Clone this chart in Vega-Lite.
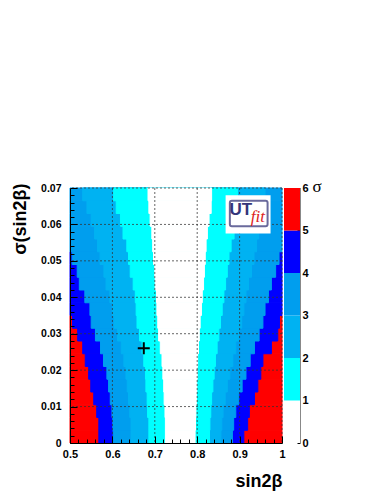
{
  "$schema": "https://vega.github.io/schema/vega-lite/v6.json",
  "padding": {"left": 10, "top": 177, "right": 0, "bottom": 4},
  "bounds": "flush",
  "spacing": 2,
  "config": {"view": {"stroke": null}, "font": "Liberation Sans", "axis": {"labelOverlap": false}},
  "resolve": {"scale": {"y": "independent", "x": "independent"}},
  "datasets": {
    "cells": [
      {"y0":0.0315,"y1":0.035,"lev":5,"lo":0.5,"hi":1},{"y0":0.028,"y1":0.0315,"lev":5,"lo":0.5,"hi":1},{"y0":0.0245,"y1":0.028,"lev":5,"lo":0.5,"hi":1},{"y0":0.021,"y1":0.0245,"lev":5,"lo":0.5,"hi":1},{"y0":0.0175,"y1":0.021,"lev":5,"lo":0.5,"hi":1},
      {"y0":0.014,"y1":0.0175,"lev":5,"lo":0.5,"hi":1},{"y0":0.0105,"y1":0.014,"lev":5,"lo":0.5,"hi":1},{"y0":0.007,"y1":0.0105,"lev":5,"lo":0.5,"hi":1},{"y0":0.0035,"y1":0.007,"lev":5,"lo":0.5,"hi":1},{"y0":0,"y1":0.0035,"lev":5,"lo":0.5,"hi":1},

      {"y0":0.049,"y1":0.0525,"lev":4,"lo":0.5,"hi":1},{"y0":0.0455,"y1":0.049,"lev":4,"lo":0.5,"hi":1},{"y0":0.042,"y1":0.0455,"lev":4,"lo":0.5,"hi":1},{"y0":0.0385,"y1":0.042,"lev":4,"lo":0.5,"hi":1},{"y0":0.035,"y1":0.0385,"lev":4,"lo":0.5,"hi":1},
      {"y0":0.0315,"y1":0.035,"lev":4,"lo":0.506,"hi":0.994},{"y0":0.028,"y1":0.0315,"lev":4,"lo":0.518,"hi":0.99},{"y0":0.0245,"y1":0.028,"lev":4,"lo":0.53,"hi":0.975},{"y0":0.021,"y1":0.0245,"lev":4,"lo":0.536,"hi":0.955},{"y0":0.0175,"y1":0.021,"lev":4,"lo":0.544,"hi":0.95},
      {"y0":0.014,"y1":0.0175,"lev":4,"lo":0.549,"hi":0.943},{"y0":0.0105,"y1":0.014,"lev":4,"lo":0.556,"hi":0.935},{"y0":0.007,"y1":0.0105,"lev":4,"lo":0.563,"hi":0.923},{"y0":0.0035,"y1":0.007,"lev":4,"lo":0.568,"hi":0.919},{"y0":0,"y1":0.0035,"lev":4,"lo":0.568,"hi":0.91},

      {"y0":0.0665,"y1":0.07,"lev":3,"lo":0.5,"hi":1},{"y0":0.063,"y1":0.0665,"lev":3,"lo":0.5,"hi":1},{"y0":0.0595,"y1":0.063,"lev":3,"lo":0.5,"hi":1},{"y0":0.056,"y1":0.0595,"lev":3,"lo":0.5,"hi":1},{"y0":0.0525,"y1":0.056,"lev":3,"lo":0.5,"hi":1},
      {"y0":0.049,"y1":0.0525,"lev":3,"lo":0.505,"hi":0.993},{"y0":0.0455,"y1":0.049,"lev":3,"lo":0.517,"hi":0.985},{"y0":0.042,"y1":0.0455,"lev":3,"lo":0.522,"hi":0.975},{"y0":0.0385,"y1":0.042,"lev":3,"lo":0.535,"hi":0.968},{"y0":0.035,"y1":0.0385,"lev":3,"lo":0.547,"hi":0.96},
      {"y0":0.0315,"y1":0.035,"lev":3,"lo":0.55,"hi":0.955},{"y0":0.028,"y1":0.0315,"lev":3,"lo":0.56,"hi":0.946},{"y0":0.0245,"y1":0.028,"lev":3,"lo":0.572,"hi":0.935},{"y0":0.021,"y1":0.0245,"lev":3,"lo":0.579,"hi":0.925},{"y0":0.0175,"y1":0.021,"lev":3,"lo":0.587,"hi":0.915},
      {"y0":0.014,"y1":0.0175,"lev":3,"lo":0.591,"hi":0.906},{"y0":0.0105,"y1":0.014,"lev":3,"lo":0.595,"hi":0.898},{"y0":0.007,"y1":0.0105,"lev":3,"lo":0.599,"hi":0.891},{"y0":0.0035,"y1":0.007,"lev":3,"lo":0.601,"hi":0.886},{"y0":0,"y1":0.0035,"lev":3,"lo":0.602,"hi":0.883},

      {"y0":0.0665,"y1":0.07,"lev":2,"lo":0.53,"hi":0.96},{"y0":0.063,"y1":0.0665,"lev":2,"lo":0.54,"hi":0.955},{"y0":0.0595,"y1":0.063,"lev":2,"lo":0.55,"hi":0.95},{"y0":0.056,"y1":0.0595,"lev":2,"lo":0.558,"hi":0.945},{"y0":0.0525,"y1":0.056,"lev":2,"lo":0.565,"hi":0.94},
      {"y0":0.049,"y1":0.0525,"lev":2,"lo":0.571,"hi":0.934},{"y0":0.0455,"y1":0.049,"lev":2,"lo":0.58,"hi":0.928},{"y0":0.042,"y1":0.0455,"lev":2,"lo":0.585,"hi":0.921},{"y0":0.0385,"y1":0.042,"lev":2,"lo":0.594,"hi":0.915},{"y0":0.035,"y1":0.0385,"lev":2,"lo":0.6,"hi":0.91},
      {"y0":0.0315,"y1":0.035,"lev":2,"lo":0.604,"hi":0.905},{"y0":0.028,"y1":0.0315,"lev":2,"lo":0.612,"hi":0.898},{"y0":0.0245,"y1":0.028,"lev":2,"lo":0.621,"hi":0.891},{"y0":0.021,"y1":0.0245,"lev":2,"lo":0.627,"hi":0.884},{"y0":0.0175,"y1":0.021,"lev":2,"lo":0.632,"hi":0.877},
      {"y0":0.014,"y1":0.0175,"lev":2,"lo":0.635,"hi":0.871},{"y0":0.0105,"y1":0.014,"lev":2,"lo":0.638,"hi":0.866},{"y0":0.007,"y1":0.0105,"lev":2,"lo":0.641,"hi":0.861},{"y0":0.0035,"y1":0.007,"lev":2,"lo":0.644,"hi":0.858},{"y0":0,"y1":0.0035,"lev":2,"lo":0.644,"hi":0.856},

      {"y0":0.0665,"y1":0.07,"lev":1,"lo":0.603,"hi":0.895},{"y0":0.063,"y1":0.0665,"lev":1,"lo":0.609,"hi":0.893},{"y0":0.0595,"y1":0.063,"lev":1,"lo":0.619,"hi":0.89},{"y0":0.056,"y1":0.0595,"lev":1,"lo":0.625,"hi":0.887},{"y0":0.0525,"y1":0.056,"lev":1,"lo":0.634,"hi":0.88},
      {"y0":0.049,"y1":0.0525,"lev":1,"lo":0.638,"hi":0.875},{"y0":0.0455,"y1":0.049,"lev":1,"lo":0.642,"hi":0.871},{"y0":0.042,"y1":0.0455,"lev":1,"lo":0.649,"hi":0.867},{"y0":0.0385,"y1":0.042,"lev":1,"lo":0.654,"hi":0.863},{"y0":0.035,"y1":0.0385,"lev":1,"lo":0.656,"hi":0.859},
      {"y0":0.0315,"y1":0.035,"lev":1,"lo":0.658,"hi":0.855},{"y0":0.028,"y1":0.0315,"lev":1,"lo":0.664,"hi":0.851},{"y0":0.0245,"y1":0.028,"lev":1,"lo":0.67,"hi":0.847},{"y0":0.021,"y1":0.0245,"lev":1,"lo":0.674,"hi":0.843},{"y0":0.0175,"y1":0.021,"lev":1,"lo":0.678,"hi":0.84},
      {"y0":0.014,"y1":0.0175,"lev":1,"lo":0.679,"hi":0.837},{"y0":0.0105,"y1":0.014,"lev":1,"lo":0.682,"hi":0.834},{"y0":0.007,"y1":0.0105,"lev":1,"lo":0.683,"hi":0.832},{"y0":0.0035,"y1":0.007,"lev":1,"lo":0.686,"hi":0.83},{"y0":0,"y1":0.0035,"lev":1,"lo":0.686,"hi":0.829},

      {"y0":0.0665,"y1":0.07,"lev":0,"lo":0.684,"hi":0.834},{"y0":0.063,"y1":0.0665,"lev":0,"lo":0.686,"hi":0.833},{"y0":0.0595,"y1":0.063,"lev":0,"lo":0.689,"hi":0.828},{"y0":0.056,"y1":0.0595,"lev":0,"lo":0.693,"hi":0.824},{"y0":0.0525,"y1":0.056,"lev":0,"lo":0.695,"hi":0.821},
      {"y0":0.049,"y1":0.0525,"lev":0,"lo":0.697,"hi":0.819},{"y0":0.0455,"y1":0.049,"lev":0,"lo":0.7,"hi":0.817},{"y0":0.042,"y1":0.0455,"lev":0,"lo":0.701,"hi":0.815},{"y0":0.0385,"y1":0.042,"lev":0,"lo":0.704,"hi":0.812},{"y0":0.035,"y1":0.0385,"lev":0,"lo":0.705,"hi":0.81},
      {"y0":0.0315,"y1":0.035,"lev":0,"lo":0.707,"hi":0.807},{"y0":0.028,"y1":0.0315,"lev":0,"lo":0.709,"hi":0.805},{"y0":0.0245,"y1":0.028,"lev":0,"lo":0.713,"hi":0.803},{"y0":0.021,"y1":0.0245,"lev":0,"lo":0.717,"hi":0.801},{"y0":0.0175,"y1":0.021,"lev":0,"lo":0.719,"hi":0.8},
      {"y0":0.014,"y1":0.0175,"lev":0,"lo":0.721,"hi":0.799},{"y0":0.0105,"y1":0.014,"lev":0,"lo":0.722,"hi":0.798},{"y0":0.007,"y1":0.0105,"lev":0,"lo":0.724,"hi":0.797},{"y0":0.0035,"y1":0.007,"lev":0,"lo":0.725,"hi":0.796},{"y0":0,"y1":0.0035,"lev":0,"lo":0.725,"hi":0.795}
    ],
    "gridx": [{"v":0.6},{"v":0.7},{"v":0.8},{"v":0.9},{"v":1.0}],
    "gridy": [{"v":0.01},{"v":0.02},{"v":0.03},{"v":0.04},{"v":0.05},{"v":0.06},{"v":0.07}],
    "logobox": [{"x0":0.867,"x1":0.973,"y0":0.0575,"y1":0.068}],
    "logoframe": [{"x0":0.877,"x1":0.966,"y0":0.0595,"y1":0.0665}],
    "logout": [{"x":0.903,"y":0.0639,"t":"UT"}],
    "logofit": [{"x":0.943,"y":0.0621,"t":"fit"}],
    "best": [{"x":0.674,"y":0.026}],
    "cbar": [{"lo":0,"hi":1,"lev":0},{"lo":1,"hi":2,"lev":1},{"lo":2,"hi":3,"lev":2},{"lo":3,"hi":4,"lev":3},{"lo":4,"hi":5,"lev":4},{"lo":5,"hi":6,"lev":5}]
  },
  "hconcat": [
    {
      "width": 212,
      "height": 255,
      "resolve": {"axis": {"x": "independent", "y": "independent"}},
      "layer": [
        {
          "data": {"name": "cells"},
          "mark": {"type": "rect", "strokeWidth": 1},
          "encoding": {
            "x": {"field": "lo", "type": "quantitative", "title": "sin2β",
              "scale": {"domain": [0.5, 1], "nice": false, "zero": false},
              "axis": {"orient": "bottom", "zindex": 1, "grid": false,
                "values": [0.5,0.6,0.7,0.8,0.9,1.0], "format": "~g",
                "tickSize": -7, "tickColor": "#000", "domainColor": "#000",
                "labelPadding": 12, "labelFont": "Liberation Sans", "labelFontWeight": "bold", "labelFontSize": 11, "labelColor": "#000",
                "labelFlush": false, "labelOverlap": false,
                "titleFont": "Liberation Sans", "titleFontWeight": "bold", "titleFontSize": 18, "titleColor": "#000",
                "titleAnchor": "end", "titleAlign": "right", "titleBaseline": "alphabetic", "titleX": 212, "titleY": 43}},
            "x2": {"field": "hi"},
            "y": {"field": "y0", "type": "quantitative", "title": "σ(sin2β)",
              "scale": {"domain": [0, 0.07], "nice": false, "zero": false},
              "axis": {"orient": "left", "zindex": 1, "grid": false,
                "values": [0,0.01,0.02,0.03,0.04,0.05,0.06,0.07], "format": "~g",
                "tickSize": -7, "tickColor": "#000", "domainColor": "#000",
                "labelPadding": 16, "labelFont": "Liberation Sans", "labelFontWeight": "bold", "labelFontSize": 10.5, "labelColor": "#000",
                "labelFlush": false, "labelOverlap": false,
                "titleFont": "Liberation Sans", "titleFontWeight": "bold", "titleFontSize": 18, "titleColor": "#000",
                "titleAngle": -90, "titleAnchor": "end", "titleAlign": "right", "titleBaseline": "alphabetic", "titleX": -45, "titleY": -5}},
            "y2": {"field": "y1"},
            "color": {"field": "lev", "type": "ordinal", "legend": null,
              "scale": {"domain": [0,1,2,3,4,5], "range": ["#ffffff","#00ffff","#00b2f2","#009eee","#0000ff","#ff0000"]}},
            "stroke": {"field": "lev", "type": "ordinal", "legend": null,
              "scale": {"domain": [0,1,2,3,4,5], "range": ["#ffffff","#00ffff","#00b2f2","#009eee","#0000ff","#ff0000"]}}
          }
        },
        {
          "data": {"name": "gridx"},
          "mark": {"type": "rule", "color": "#333", "strokeDash": [2, 2], "strokeWidth": 1, "opacity": 0.75},
          "encoding": {"x": {"field": "v", "type": "quantitative", "title": null,
            "axis": {"orient": "bottom", "zindex": 1, "grid": false, "labels": false, "domain": false,
              "values": [0.52,0.54,0.56,0.58,0.62,0.64,0.66,0.68,0.72,0.74,0.76,0.78,0.82,0.84,0.86,0.88,0.92,0.94,0.96,0.98],
              "tickSize": -4, "tickColor": "#000"}}}
        },
        {
          "data": {"name": "gridy"},
          "mark": {"type": "rule", "color": "#333", "strokeDash": [2, 2], "strokeWidth": 1, "opacity": 0.75},
          "encoding": {"y": {"field": "v", "type": "quantitative", "title": null,
            "axis": {"orient": "left", "zindex": 1, "grid": false, "labels": false, "domain": false,
              "values": [0.002,0.004,0.006,0.008,0.012,0.014,0.016,0.018,0.022,0.024,0.026,0.028,0.032,0.034,0.036,0.038,0.042,0.044,0.046,0.048,0.052,0.054,0.056,0.058,0.062,0.064,0.066,0.068],
              "tickSize": -4, "tickColor": "#000"}}}
        },
        {
          "data": {"name": "logobox"},
          "mark": {"type": "rect", "fill": "#ffffff"},
          "encoding": {"x": {"field": "x0", "type": "quantitative", "axis": null}, "x2": {"field": "x1"}, "y": {"field": "y0", "type": "quantitative", "axis": null}, "y2": {"field": "y1"}}
        },
        {
          "data": {"name": "logoframe"},
          "mark": {"type": "rect", "fill": "#ffffff", "stroke": "#6a6a9c", "strokeWidth": 2, "cornerRadius": 2},
          "encoding": {"x": {"field": "x0", "type": "quantitative", "axis": null}, "x2": {"field": "x1"}, "y": {"field": "y0", "type": "quantitative", "axis": null}, "y2": {"field": "y1"}}
        },
        {
          "data": {"name": "logout"},
          "mark": {"type": "text", "font": "Liberation Sans", "fontWeight": "bold", "fontSize": 17, "color": "#35357a", "align": "center", "baseline": "middle"},
          "encoding": {"x": {"field": "x", "type": "quantitative", "axis": null}, "y": {"field": "y", "type": "quantitative", "axis": null}, "text": {"field": "t"}}
        },
        {
          "data": {"name": "logofit"},
          "mark": {"type": "text", "font": "Liberation Serif", "fontStyle": "italic", "fontSize": 17, "color": "#dd2222", "align": "center", "baseline": "middle"},
          "encoding": {"x": {"field": "x", "type": "quantitative", "axis": null}, "y": {"field": "y", "type": "quantitative", "axis": null}, "text": {"field": "t"}}
        },
        {
          "data": {"name": "best"},
          "mark": {"type": "point", "shape": "M-1,0H1M0,-1V1", "size": 144, "filled": false, "color": "#000", "strokeWidth": 2, "opacity": 1},
          "encoding": {"x": {"field": "x", "type": "quantitative", "axis": null}, "y": {"field": "y", "type": "quantitative", "axis": null}}
        }
      ]
    },
    {
      "width": 16,
      "height": 255,
      "data": {"name": "cbar"},
      "mark": {"type": "rect"},
      "encoding": {
        "y": {"field": "lo", "type": "quantitative", "title": "σ",
          "scale": {"domain": [0, 6], "nice": false},
          "axis": {"orient": "right", "values": [0,1,2,3,4,5,6], "format": "d", "grid": false,
            "tickSize": -3, "tickColor": "#000", "domainColor": "#888", "labelPadding": 5,
            "labelFont": "Liberation Sans", "labelFontWeight": "bold", "labelFontSize": 11, "labelColor": "#000",
            "labelFlush": false, "labelOverlap": false,
            "titleFont": "Liberation Serif", "titleFontWeight": "normal", "titleFontSize": 17, "titleColor": "#000",
            "titleAngle": 0, "titleAlign": "left", "titleBaseline": "alphabetic", "titleX": 12, "titleY": 3}},
        "y2": {"field": "hi"},
        "color": {"field": "lev", "type": "ordinal", "legend": null,
          "scale": {"domain": [0,1,2,3,4,5], "range": ["#ffffff","#00ffff","#00b2f2","#009eee","#0000ff","#ff0000"]}}
      }
    }
  ]
}
